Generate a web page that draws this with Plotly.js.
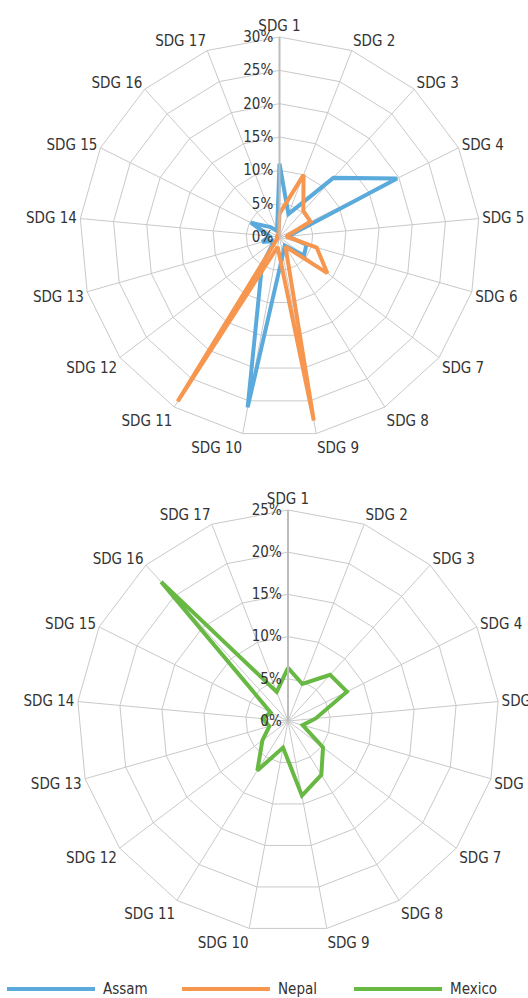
<!DOCTYPE html>
<html>
<head>
<meta charset="utf-8">
<script src="https://cdn.plot.ly/plotly-3.0.1.min.js"></script>
<style>
html,body{margin:0;padding:0;background:#ffffff;}
#chart{width:528px;height:998px;}
</style>
</head>
<body>
<div id="chart"></div>
<script>
// ---- data ----
const categories = ['SDG 1','SDG 2','SDG 3','SDG 4','SDG 5','SDG 6','SDG 7','SDG 8','SDG 9',
                    'SDG 10','SDG 11','SDG 12','SDG 13','SDG 14','SDG 15','SDG 16','SDG 17'];
const assam  = [11, 3.7, 12, 19.7, 1.3, 4.2, 4.6, 1.5, 2.7, 26, 5, 1, 2.7, 1.5, 4.8, 2, 1];
const nepal  = [3.5, 10, 5.3, 5.2, 1, 5.8, 9, 1.7, 28, 1.5, 29, 0.4, 0.4, 0.4, 0.4, 0.4, 0.4];
const mexico = [6.3, 4.7, 7.4, 7.8, 3.3, 1.8, 5.2, 7.5, 9.0, 3.2, 6.9, 3.8, 2.3, 3.0, 2.3, 22.3, 3.7];
const seriesNames  = ['Assam', 'Nepal', 'Mexico'];
const seriesColors = ['#5aaadc', '#f7964f', '#68b844'];
const topTicks    = [0, 5, 10, 15, 20, 25, 30];
const bottomTicks = [0, 5, 10, 15, 20, 25];

// ---- styling ----
const FONT = 'DejaVu Sans Condensed, Roboto, sans-serif';
const TXT = '#333333';
const GRID = '#c9c9c9';

function closed(arr){ return arr.concat([arr[0]]); }

function trace(values, idx, subplot){
  return {
    type: 'scatterpolar',
    mode: 'lines',
    r: closed(values),
    theta: closed(categories),
    name: seriesNames[idx],
    subplot: subplot,
    line: {color: seriesColors[idx], width: 4},
    showlegend: false,
    hoverinfo: 'skip'
  };
}

function polar(dx, dy, ticks){
  return {
    domain: {x: dx, y: dy},
    gridshape: 'linear',
    bgcolor: 'rgba(0,0,0,0)',
    angularaxis: {
      type: 'category',
      categoryorder: 'array',
      categoryarray: categories,
      direction: 'clockwise',
      rotation: 90,
      showline: true,
      linecolor: GRID,
      linewidth: 1,
      gridcolor: GRID,
      gridwidth: 1,
      ticks: '',
      tickfont: {family: FONT, size: 15, color: TXT}
    },
    radialaxis: {
      range: [ticks[0], ticks[ticks.length-1]],
      tickvals: ticks,
      ticktext: ticks.map(t => t + '%'),
      angle: 90,
      side: 'counterclockwise',
      tickangle: 90,
      showline: true,
      linecolor: '#bdbdbd',
      linewidth: 2,
      gridcolor: GRID,
      gridwidth: 1,
      ticks: '',
      tickfont: {family: FONT, size: 15, color: TXT}
    }
  };
}

const data = [
  trace(assam, 0, 'polar'),
  trace(nepal, 1, 'polar'),
  trace(mexico, 2, 'polar2')
];

// custom legend (long line samples like the original)
const legendY = 1 - 989/998;
const legendX = [[7, 95], [182, 270], [354, 442]];
const shapes = [], annotations = [];
seriesNames.forEach((n, i) => {
  shapes.push({type: 'line', xref: 'paper', yref: 'paper',
    x0: legendX[i][0]/528, x1: legendX[i][1]/528, y0: legendY, y1: legendY,
    line: {color: seriesColors[i], width: 4}});
  annotations.push({xref: 'paper', yref: 'paper', x: (legendX[i][1]+6)/528, y: legendY,
    xanchor: 'left', yanchor: 'middle', text: n, showarrow: false,
    font: {family: FONT, size: 15, color: TXT}});
});

const layout = {
  width: 528, height: 998,
  margin: {l: 0, r: 0, t: 0, b: 0},
  paper_bgcolor: '#ffffff',
  showlegend: false,
  polar:  polar([79.5/528, 479.5/528], [1-437/998, 1-37/998], topTicks),
  polar2: polar([77/528, 499/528], [1-932/998, 1-510/998], bottomTicks),
  shapes: shapes,
  annotations: annotations
};

Plotly.newPlot('chart', data, layout, {displayModeBar: false, staticPlot: true});
</script>
</body>
</html>
